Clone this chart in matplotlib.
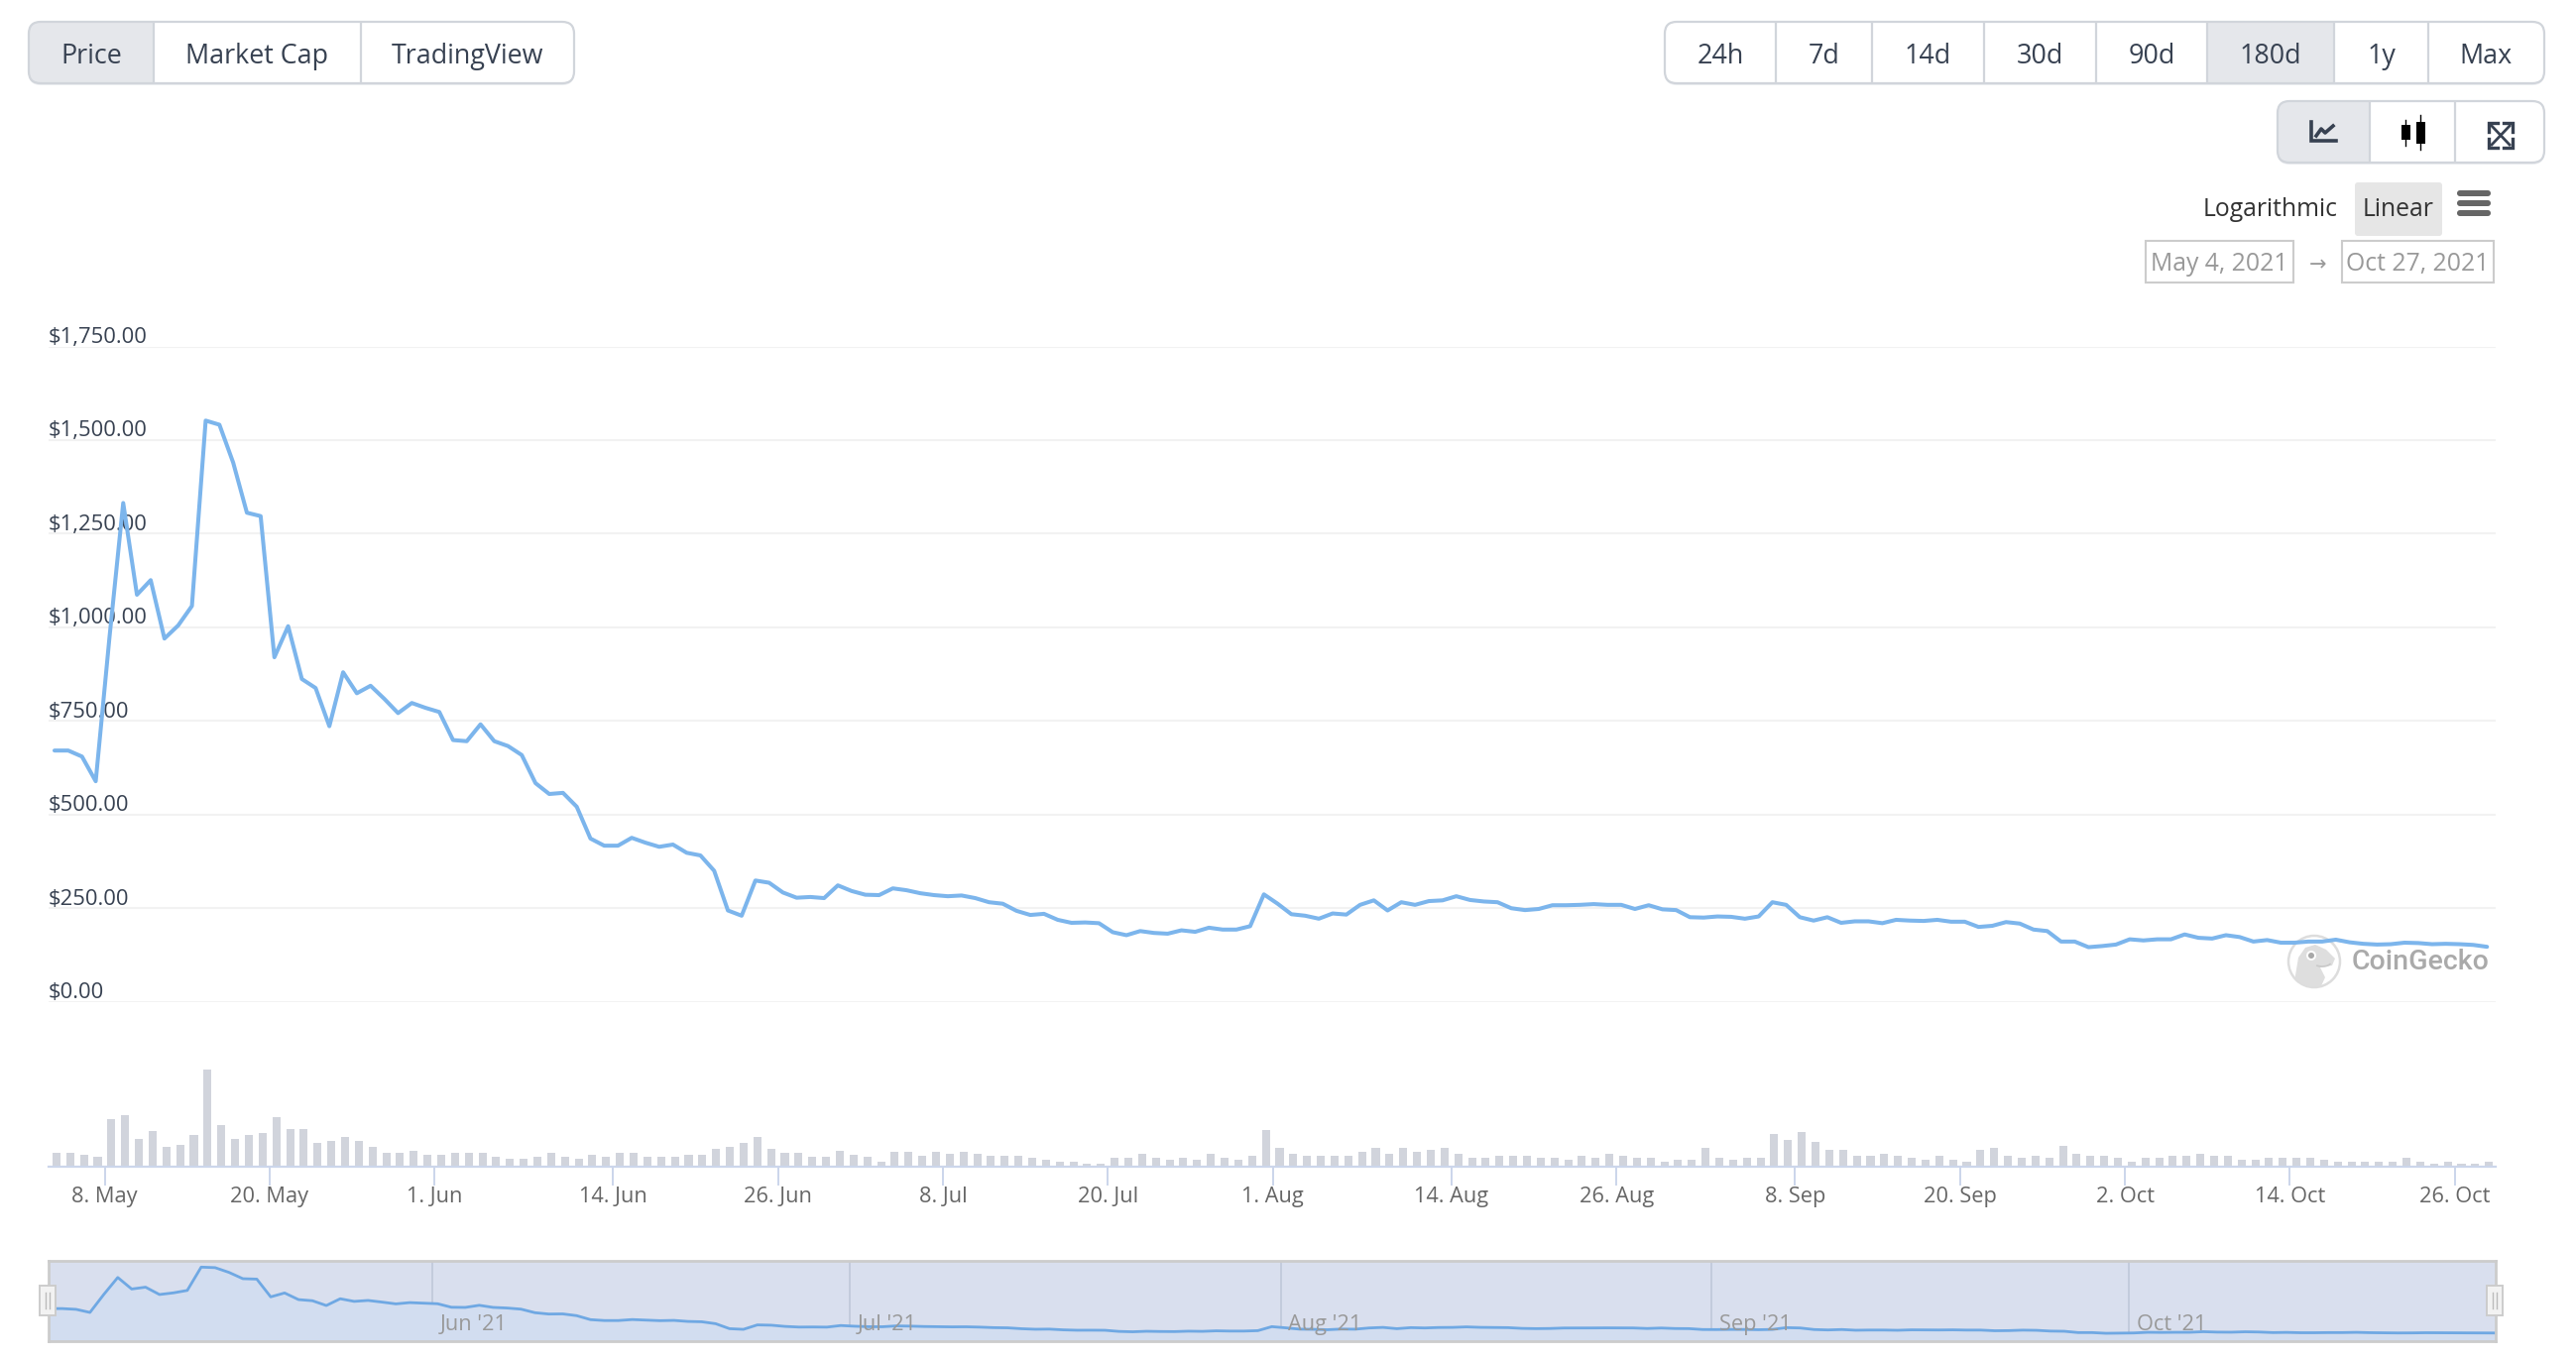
import matplotlib
matplotlib.use('Agg')
import matplotlib.pyplot as plt
import matplotlib.dates as mdates
import numpy as np
import pandas as pd
from matplotlib.patches import FancyBboxPatch, Rectangle, Circle, Polygon, Arc

plt.rcParams['font.family'] = ['Open Sans', 'DejaVu Sans']

# daily price
price = [671, 671, 655, 589, 973, 1332, 1087, 1126, 970, 1005,
         1057, 1552, 1541, 1440, 1306, 1297, 920, 1003, 862, 838,
         736, 880, 824, 844, 809, 771, 798, 785, 774, 699,
         696, 741, 696, 683, 659, 584, 555, 558, 521, 436,
         417, 417, 438, 425, 414, 420, 398, 391, 350, 244,
         230, 324, 318, 292, 278, 280, 277, 311, 296, 286,
         285, 303, 298, 290, 285, 282, 284, 277, 266, 262,
         243, 232, 235, 219, 211, 212, 210, 186, 178, 189,
         184, 182, 191, 187, 198, 193, 193, 202, 287, 262,
         234, 230, 222, 236, 233, 259, 271, 244, 266, 259,
         269, 271, 282, 272, 268, 266, 250, 245, 248, 258,
         258, 259, 261, 259, 259, 248, 258, 247, 245, 226,
         225, 228, 227, 222, 228, 266, 259, 226, 217, 226,
         211, 215, 215, 210, 219, 217, 216, 219, 214, 214,
         200, 203, 213, 209, 193, 189, 161, 161, 146, 149,
         153, 167, 164, 167, 167, 180, 171, 169, 178, 173,
         161, 165, 158, 158, 161, 161, 166, 159, 155, 153,
         154, 158, 157, 154, 155, 154, 152, 147]

# volume in relative units, the axis has no scale
volume = [13, 13, 11, 9, 47, 51, 27, 35, 19, 21,
          31, 97, 41, 27, 31, 33, 49, 37, 37, 23,
          25, 29, 25, 19, 13, 13, 15, 11, 11, 13,
          13, 13, 9, 7, 7, 9, 13, 9, 7, 11,
          9, 13, 13, 9, 9, 9, 11, 11, 17, 19,
          23, 29, 17, 13, 13, 9, 9, 15, 11, 9,
          4, 14, 14, 10, 14, 12, 14, 12, 10, 10,
          10, 8, 6, 4, 4, 2, 2, 8, 8, 12,
          8, 6, 8, 6, 12, 8, 6, 10, 36, 18,
          12, 10, 10, 10, 10, 14, 18, 12, 18, 14,
          16, 18, 12, 8, 8, 10, 10, 10, 8, 8,
          6, 10, 8, 12, 10, 8, 8, 4, 6, 6,
          18, 8, 6, 8, 8, 32, 26, 34, 24, 16,
          16, 10, 10, 12, 10, 8, 6, 10, 6, 4,
          16, 18, 10, 8, 10, 8, 20, 12, 10, 10,
          8, 4, 8, 8, 10, 10, 12, 10, 10, 6,
          6, 8, 8, 8, 8, 6, 4, 4, 4, 4,
          4, 8, 4, 2, 4, 2, 2, 4]

y_ticks = [0, 250, 500, 750, 1000, 1250, 1500, 1750]
x_tick_dates = ['2021-05-08', '2021-05-20', '2021-06-01', '2021-06-14', '2021-06-26',
                '2021-07-08', '2021-07-20', '2021-08-01', '2021-08-14', '2021-08-26',
                '2021-09-08', '2021-09-20', '2021-10-02', '2021-10-14', '2021-10-26']
x_tick_labels = ['8. May', '20. May', '1. Jun', '14. Jun', '26. Jun',
                 '8. Jul', '20. Jul', '1. Aug', '14. Aug', '26. Aug',
                 '8. Sep', '20. Sep', '2. Oct', '14. Oct', '26. Oct']
month_dates = ['2021-06-01', '2021-07-01', '2021-08-01', '2021-09-01', '2021-10-01']
month_labels = ["Jun '21", "Jul '21", "Aug '21", "Sep '21", "Oct '21"]

W, H = 2598, 1370
fig = plt.figure(figsize=(W / 100, H / 100), dpi=100, facecolor='white')


def px_axes(left, top, right, bottom, z=1):
    a = fig.add_axes([left / W, 1 - bottom / H, (right - left) / W, (bottom - top) / H], zorder=z)
    a.patch.set_alpha(0)
    return a


days = mdates.date2num(pd.date_range('2021-05-04 08:24', periods=len(price), freq='D'))
may8 = mdates.date2num(pd.Timestamp('2021-05-08'))
xlim_main = (may8 - 4.08, may8 + 173.98)
ticks = mdates.date2num(pd.to_datetime(x_tick_dates))

# page furniture is drawn in pixel coordinates underneath the charts
ui = px_axes(0, 0, W, H, z=0)
ui.set_xlim(0, W)
ui.set_ylim(H, 0)
ui.axis('off')

EDGE = '#d1d5db'
ACTIVE = '#e5e7eb'
TEXT = '#374151'


def button_group(left, right, top, bottom, dividers, active):
    shadow = FancyBboxPatch((left, top + 2), right - left, bottom - top, boxstyle='round,pad=0,rounding_size=12',
                            fc='#eceef1', ec='none')
    ui.add_patch(shadow)
    box = FancyBboxPatch((left, top), right - left, bottom - top, boxstyle='round,pad=0,rounding_size=12',
                         fc='white', ec='none')
    ui.add_patch(box)
    edges = [left] + dividers + [right]
    fill = Rectangle((edges[active], top), edges[active + 1] - edges[active], bottom - top, fc=ACTIVE, ec='none')
    ui.add_patch(fill)
    fill.set_clip_path(box)
    for d in dividers:
        ui.plot([d, d], [top, bottom], color=EDGE, lw=1.6, solid_capstyle='butt')
    ui.add_patch(FancyBboxPatch((left, top), right - left, bottom - top, boxstyle='round,pad=0,rounding_size=12',
                                fc='none', ec=EDGE, lw=1.6))
    return edges


edges = button_group(29, 579, 22, 84, [155, 364], 0)
for i, t in enumerate(['Price', 'Market Cap', 'TradingView']):
    ui.text((edges[i] + edges[i + 1]) / 2, 57, t, ha='center', va='center', fontsize=19.4, color=TEXT)

edges = button_group(1679, 2566, 22, 84, [1791, 1888, 2001, 2114, 2226, 2354, 2449], 5)
for i, t in enumerate(['24h', '7d', '14d', '30d', '90d', '180d', '1y', 'Max']):
    ui.text((edges[i] + edges[i + 1]) / 2, 57, t, ha='center', va='center', fontsize=19.4, color=TEXT)

button_group(2297, 2566, 102, 164, [2390, 2476], 0)

# line chart icon
ui.plot([2331, 2331, 2356], [123, 142, 142], color='#374151', lw=2.6, solid_joinstyle='miter')
ui.plot([2336, 2341, 2345, 2353], [137, 130, 134, 127], color='#374151', lw=2.6)
# candle icon
ui.plot([2426, 2426], [121, 147], color='black', lw=1)
ui.add_patch(Rectangle((2422, 126), 9, 15, fc='black', ec='none'))
ui.plot([2441, 2441], [116, 151], color='black', lw=1)
ui.add_patch(Rectangle((2437, 123), 9, 22, fc='black', ec='none'))
# expand icon
ui.plot([2513, 2531], [127, 146], color='#374151', lw=2)
ui.plot([2531, 2513], [127, 146], color='#374151', lw=2)
ui.plot([2510, 2510, 2519], [133, 124, 124], color='#374151', lw=2.4, solid_joinstyle='miter')
ui.plot([2525, 2534, 2534], [124, 124, 133], color='#374151', lw=2.4, solid_joinstyle='miter')
ui.plot([2510, 2510, 2519], [140, 149, 149], color='#374151', lw=2.4, solid_joinstyle='miter')
ui.plot([2525, 2534, 2534], [149, 149, 140], color='#374151', lw=2.4, solid_joinstyle='miter')

# range selector
ui.text(2290, 211, 'Logarithmic', ha='center', va='center', fontsize=17.8, color='#333333')
ui.add_patch(FancyBboxPatch((2375, 184), 88, 54, boxstyle='round,pad=0,rounding_size=3', fc='#e6e6e6', ec='none'))
ui.text(2419, 211, 'Linear', ha='center', va='center', fontsize=17.8, color='#333333')
for y in [195, 205, 215]:
    ui.add_patch(FancyBboxPatch((2478, y - 3), 34, 6, boxstyle='round,pad=0,rounding_size=3', fc='#666666', ec='none'))
ui.add_patch(Rectangle((2164, 243), 149, 42, fc='white', ec='#cccccc', lw=1.5))
ui.add_patch(Rectangle((2362, 243), 153, 42, fc='white', ec='#cccccc', lw=1.5))
ui.text(2238, 266, 'May 4, 2021', ha='center', va='center', fontsize=17.8, color='#999999')
ui.text(2338, 267, '\u2192', ha='center', va='center', fontsize=15, color='#999999', family='DejaVu Sans')
ui.text(2438, 266, 'Oct 27, 2021', ha='center', va='center', fontsize=17.8, color='#999999')

# watermark
ring = Circle((2334, 970), 26, fc='white', ec='#dddddd', lw=1.8)
ui.add_patch(ring)
gecko = Polygon([(2313, 996), (2318, 966), (2325, 956), (2335, 953), (2346, 958), (2355, 967), (2352, 974),
                 (2340, 976), (2345, 986), (2340, 997)], fc='#dedede', ec='none')
ui.add_patch(gecko)
gecko.set_clip_path(ring)
ui.add_patch(Circle((2331, 964), 5, fc='white', ec='none'))
ui.add_patch(Circle((2331, 964), 3, fc='#a8a8a8', ec='none'))
ui.add_patch(Arc((2342, 969), 20, 12, theta1=20, theta2=140, color='#c8c8c8', lw=1.2))
ui.text(2372, 970, 'CoinGecko', ha='left', va='center', fontsize=20.5, color='#aaaaaa',
        family='Roboto', fontweight='medium')

# price panel
ax = px_axes(49, 349.5, 2517, 1010.7, z=2)
ax.set_xlim(*xlim_main)
ax.set_ylim(0, 1750)
for s in ax.spines.values():
    s.set_visible(False)
ax.set_xticks([])
ax.set_yticks(y_ticks)
ax.tick_params(axis='y', length=0, labelleft=False)
ax.grid(axis='y', color='#f2f2f2', lw=1.5)
ax.set_axisbelow(True)
for v in y_ticks:
    ax.annotate('${:,.2f}'.format(v), xy=(0, v), xycoords=('axes fraction', 'data'), xytext=(0, 2.6),
                textcoords='offset points', ha='left', va='baseline', fontsize=15.8, color='#374151', zorder=1)
ax.plot(days, price, color='#7cb5ec', lw=2.9, solid_joinstyle='round', solid_capstyle='round', zorder=3,
        clip_on=False)

# volume panel, one unit is one pixel above the axis line
vol = px_axes(49, 1079, 2517, 1177, z=2)
vol.set_xlim(*xlim_main)
vol.set_ylim(-1, 97)
vol.bar(days + 0.14, volume, width=0.58, color='#d1d4dc')
for k in ['top', 'left', 'right']:
    vol.spines[k].set_visible(False)
vol.spines['bottom'].set_color('#ccd6eb')
vol.spines['bottom'].set_linewidth(1.6)
vol.set_yticks([])
vol.set_xticks(ticks)
vol.set_xticklabels(x_tick_labels)
vol.tick_params(axis='x', length=13.7, width=1.44, color='#ccd6eb', labelcolor='#666666', labelsize=15.7, pad=1)

# navigator
nav = px_axes(49, 1272, 2517, 1353, z=2)
nav.patch.set_alpha(1)
nav.patch.set_facecolor('#d9dfee')
nav.set_xlim(mdates.date2num(pd.Timestamp('2021-05-04 09:00')), mdates.date2num(pd.Timestamp('2021-10-27 09:00')))
nav.set_ylim(-21, 1685)
nav.fill_between(days, 0 * np.array(price) - 21, price, color='#d2ddf0', lw=0)
nav.plot(days, price, color='#6fa8e3', lw=2, solid_joinstyle='round')
for s in nav.spines.values():
    s.set_color('#cccccc')
    s.set_linewidth(2)
nav.set_xticks([])
nav.set_yticks([])
for d, t in zip(pd.to_datetime(month_dates), month_labels):
    x = mdates.date2num(d)
    nav.axvline(x, color='#c3cbdc', lw=1.4, zorder=0.5)
    nav.annotate(t, xy=(x, 0.2), xycoords=('data', 'axes fraction'), xytext=(5.5, 0), textcoords='offset points',
                 ha='left', va='center', fontsize=15.7, color='#999999')

# navigator handles sit over everything
top = px_axes(0, 0, W, H, z=3)
top.set_xlim(0, W)
top.set_ylim(H, 0)
top.axis('off')
for l in [40, 2508]:
    top.add_patch(Rectangle((l, 1297), 16.5, 30, fc='#f2f2f2', ec='#cccccc', lw=1.4))
    top.plot([l + 6.5, l + 6.5], [1304, 1320], color='#bbbbbb', lw=1)
    top.plot([l + 10, l + 10], [1304, 1320], color='#bbbbbb', lw=1)

fig.savefig('out.png', dpi=100)
